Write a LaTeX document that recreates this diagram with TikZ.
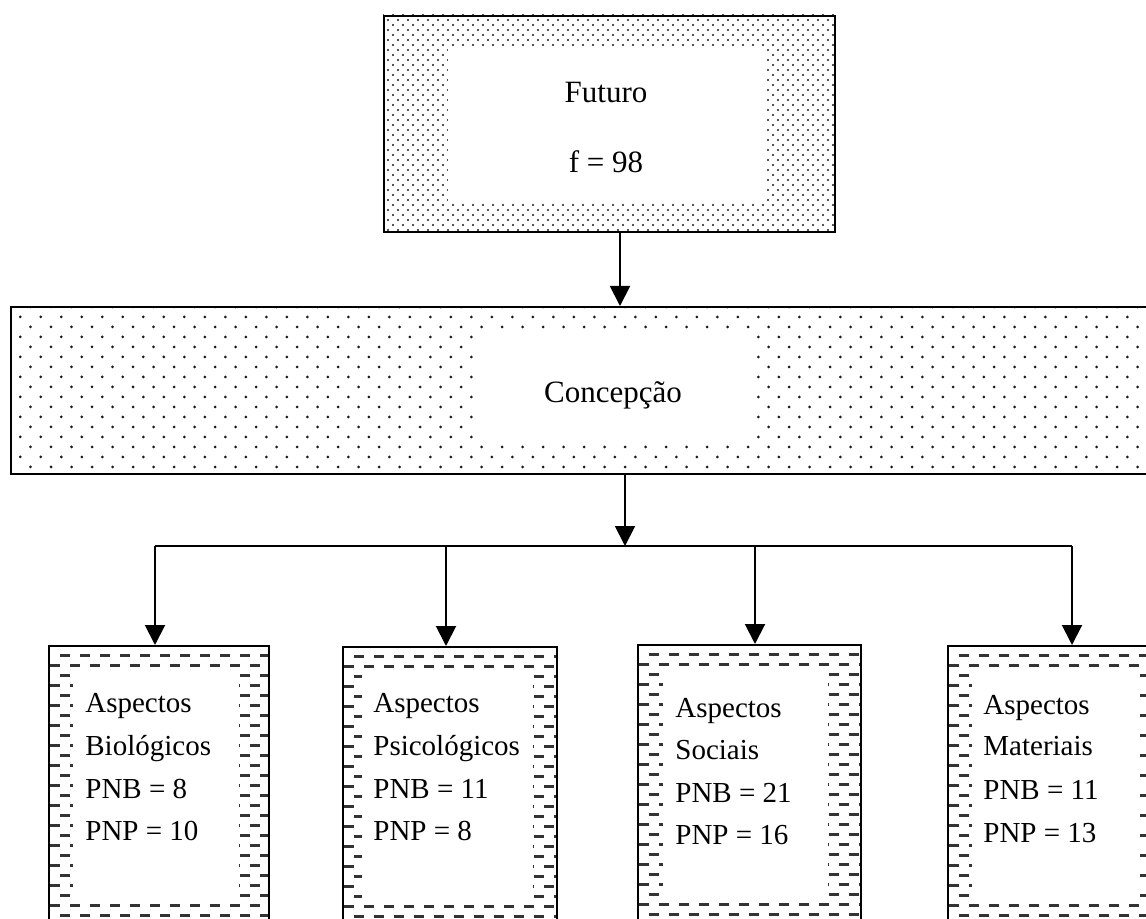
\documentclass[tikz,border=0pt]{standalone}
\usepackage{fontspec}
\setmainfont{Liberation Serif}
\usetikzlibrary{arrows.meta}
\newcommand\mydotpattern[7]{% x1 y1 x2 y2 dx dy r
  \begin{scope}
    \clip (#1,#2) rectangle (#3,#4);
    \pgfmathtruncatemacro\nrows{(#4-#2)/#6+1}
    \pgfmathtruncatemacro\ncols{(#3-#1)/#5+1}
    \foreach \j in {0,...,\nrows} {
      \pgfmathsetmacro\yy{#2+\j*#6}
      \pgfmathsetmacro\off{mod(\j,2)*#5/2}
      \foreach \i in {0,...,\ncols} {
        \fill[dotcol] ({#1+\off+\i*#5},\yy) circle[radius=#7];
      }
    }
  \end{scope}}
\newcommand\mydashpattern[4]{% x1 y1 x2 y2
  \begin{scope}
    \clip (#1,#2) rectangle (#3,#4);
    \pgfmathtruncatemacro\nrows{(#4-#2)/10+1}
    \pgfmathtruncatemacro\ncols{(#3-#1)/20+1}
    \foreach \j in {0,...,\nrows} {
      \pgfmathsetmacro\yy{#2+\j*10}
      \pgfmathsetmacro\off{mod(\j,2)*10}
      \foreach \i in {0,...,\ncols} {
        \draw[dashline] ({#1+2+\off+\i*20},\yy) -- ++(10,0);
      }
    }
  \end{scope}}
\begin{document}
\begin{tikzpicture}[x=0.5pt,y=-0.5pt,
  dotcol/.style={black!90},
  dashline/.style={draw=black!80,line width=1.5pt},
  border/.style={draw,line width=1.2pt,inner sep=0pt,anchor=north west},
  conn/.style={line width=1pt,-{Triangle[width=10pt,length=10pt]}},
  bar/.style={line width=1pt},
  lbl/.style={font=\fontsize{15.5}{18}\selectfont,inner sep=0pt,anchor=base},
  blbl/.style={font=\fontsize{14.5}{17}\selectfont,inner sep=0pt,anchor=base west}]
\clip (0,0) rectangle (1146,919);
\fill[white] (0,0) rectangle (1146,919);

% ---- top box: Futuro
\mydotpattern{383}{15}{834}{231}{10}{5}{0.55pt}
\fill[white] (448,46) rectangle (767,202);
\node[border,minimum width=225.5pt,minimum height=108pt] (top) at (383,15) {};
\node[lbl] (futuro) at (606,103) {Futuro};
\node[lbl] (f98) at (606,173) {f = 98};

% ---- Concepcao box
\mydotpattern{10}{307}{1170}{473}{20.5}{10}{0.75pt}
\fill[white] (475,332) rectangle (753,443);
\node[border,minimum width=580pt,minimum height=83.5pt] (conc) at (10,306) {};
\node[lbl] (conctxt) at (613,403) {Concepção};

% ---- bottom boxes
\mydashpattern{48}{645}{268}{935}
\fill[white] (73,668) rectangle (239,898);
\node[border,minimum width=110pt,minimum height=145pt] (b1) at (48,645) {};

\mydashpattern{342}{646}{556}{935}
\fill[white] (362,670) rectangle (533,898);
\node[border,minimum width=107pt,minimum height=145pt] (b2) at (342,646) {};

\mydashpattern{637}{644}{860}{935}
\fill[white] (663,670) rectangle (828,898);
\node[border,minimum width=111.5pt,minimum height=146pt] (b3) at (637,644) {};

\mydashpattern{947}{645}{1197}{935}
\fill[white] (972,668) rectangle (1140,898);
\node[border,minimum width=125pt,minimum height=145pt] (b4) at (947,645) {};

% texts
\node[blbl] (b1a) at (85,712) {Aspectos};
\node[blbl] (b1b) at (85,755) {Biológicos};
\node[blbl] (b1c) at (85,798) {PNB = 8};
\node[blbl] (b1d) at (85,840) {PNP = 10};

\node[blbl] (b2a) at (373,712) {Aspectos};
\node[blbl] (b2b) at (373,755) {Psicológicos};
\node[blbl] (b2c) at (373,798) {PNB = 11};
\node[blbl] (b2d) at (373,840) {PNP = 8};

\node[blbl] (b3a) at (675,717) {Aspectos};
\node[blbl] (b3b) at (675,759) {Sociais};
\node[blbl] (b3c) at (675,802) {PNB = 21};
\node[blbl] (b3d) at (675,844) {PNP = 16};

\node[blbl] (b4a) at (983,714) {Aspectos};
\node[blbl] (b4b) at (983,755) {Materiais};
\node[blbl] (b4c) at (983,799) {PNB = 11};
\node[blbl] (b4d) at (983,842) {PNP = 13};

% ---- connectors
\coordinate (ta) at (620,268);
\draw[conn] (ta |- top.south) -- (ta |- conc.north);
\coordinate (j) at (625,546);
\draw[conn] (j |- conc.south) -- (j);
\coordinate (a1) at (155,546);
\coordinate (a2) at (446,546);
\coordinate (a3) at (755,546);
\coordinate (a4) at (1072,546);
\draw[bar] (a1) -- (a4);
\draw[conn] (a1) -- (a1 |- b1.north);
\draw[conn] (a2) -- (a2 |- b2.north);
\draw[conn] (a3) -- (a3 |- b3.north);
\draw[conn] (a4) -- (a4 |- b4.north);
\end{tikzpicture}
\end{document}
